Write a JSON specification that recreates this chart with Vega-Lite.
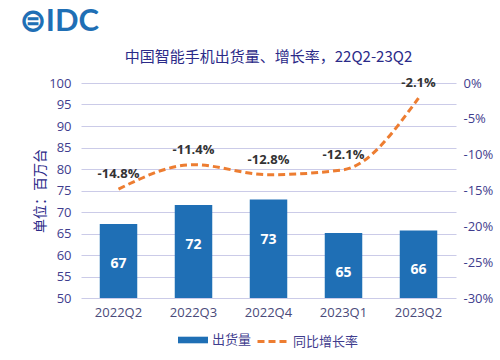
{
  "$schema": "https://vega.github.io/schema/vega-lite/v6.json",
  "padding": {"left": 19, "top": 6, "right": 5, "bottom": 0},
  "background": "white",
  "title": {"text": "⊜IDC", "anchor": "start", "frame": "bounds", "fontSize": 31, "font": "Lato", "fontWeight": "bold", "color": "#1F6FB5", "offset": 12, "dx": -14, "baseline": "top"},
  "datasets": {
    "d": [
      {"q": "2022Q2", "ship": 67.2, "pct": -14.8, "pctLabel": "-14.8%"},
      {"q": "2022Q3", "ship": 71.6, "pct": -11.4, "pctLabel": "-11.4%"},
      {"q": "2022Q4", "ship": 72.9, "pct": -12.8, "pctLabel": "-12.8%"},
      {"q": "2023Q1", "ship": 65.1, "pct": -12.1, "pctLabel": "-12.1%"},
      {"q": "2023Q2", "ship": 65.7, "pct": -2.1, "pctLabel": "-2.1%"}
    ]
  },
  "config": {
    "view": {"stroke": null},
    "font": "Noto Sans CJK SC",
    "axis": {"labelFont": "Open Sans", "labelFontSize": 13, "labelColor": "#3F3D8E", "ticks": false, "domain": false},
    "legend": {"labelFont": "Noto Sans CJK SC", "labelFontSize": 13, "labelColor": "#3F3D8E", "offset": 6, "padding": 0, "layout": {"bottom": {"anchor": "middle", "margin": 4}}}
  },
  "vconcat": [
    {
      "title": {"text": "中国智能手机出货量、增长率，22Q2-23Q2", "fontSize": 15, "fontWeight": "normal", "color": "#2B2A88", "font": "Noto Sans CJK SC", "offset": 12},
      "width": 375,
      "height": 215,
      "data": {"name": "d"},
      "encoding": {
        "x": {"field": "q", "type": "ordinal", "title": null, "scale": {"paddingInner": 0.5, "paddingOuter": 0.25}, "axis": {"labelAngle": 0, "labelPadding": 8, "labelColor": "#4A4A7A"}}
      },
      "layer": [
        {
          "encoding": {
            "y": {"field": "ship", "type": "quantitative", "scale": {"domain": [50, 100]}, "axis": {"orient": "left", "values": [50,55,60,65,70,75,80,85,90,95,100], "gridColor": "#CBCBE8", "labelPadding": 10, "title": "单位：百万台", "titleColor": "#2B2A88", "titleFontSize": 14, "titleFontWeight": "normal", "titlePadding": 1}}
          },
          "layer": [
            {"mark": {"type": "bar", "color": "#1F6FB5", "clip": true},
             "encoding": {"fill": {"datum": "出货量", "scale": {"range": ["#1F6FB5"]}, "legend": {"title": null, "orient": "bottom", "symbolType": "M-1,-0.22H1V0.22H-1Z", "symbolSize": 900, "symbolStrokeWidth": 0}}}},
            {"mark": {"type": "text", "color": "white", "fontWeight": "bold", "fontSize": 14, "font": "Open Sans", "baseline": "middle", "dy": 40},
             "encoding": {"text": {"field": "ship", "type": "quantitative", "format": ".0f"}}}
          ]
        },
        {
          "encoding": {
            "y": {"field": "pct", "type": "quantitative", "scale": {"domain": [-30, 0]}, "axis": {"orient": "right", "values": [-30,-25,-20,-15,-10,-5,0], "grid": false, "labelExpr": "datum.value + '%'", "labelPadding": 7, "title": null}}
          },
          "layer": [
            {"mark": {"type": "line", "interpolate": "monotone", "strokeDash": [7, 4], "strokeWidth": 3},
             "encoding": {"stroke": {"datum": "同比增长率", "scale": {"range": ["#ED7D31"]}, "legend": {"title": null, "orient": "bottom", "symbolType": "stroke", "symbolSize": 900, "symbolDash": [7, 4], "symbolStrokeWidth": 3}}}},
            {"mark": {"type": "text", "color": "#333333", "fontWeight": "bold", "fontSize": 13, "font": "Open Sans", "baseline": "bottom", "dy": -8},
             "encoding": {"text": {"field": "pctLabel", "type": "nominal"}}}
          ]
        }
      ],
      "resolve": {"scale": {"y": "independent", "fill": "independent", "stroke": "independent"}}
    }
  ]
}
